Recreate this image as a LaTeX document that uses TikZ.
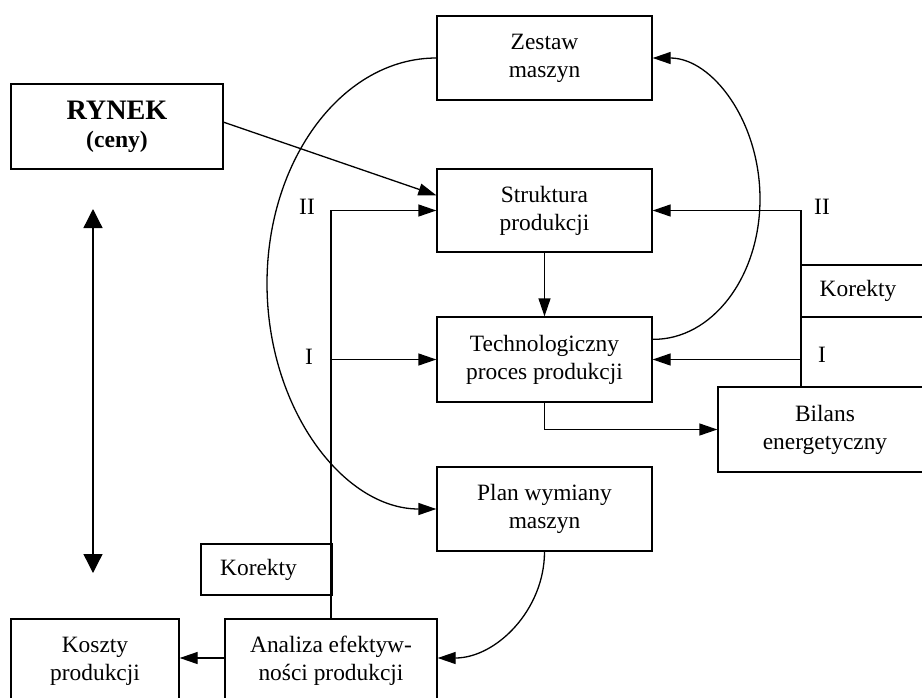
\documentclass[tikz,border=0pt]{standalone}
\usepackage{fontspec}
\setmainfont{Liberation Serif}
\usetikzlibrary{arrows.meta,calc}
\begin{document}
\begin{tikzpicture}[x=0.5pt,y=-0.5pt,line width=0.65pt,
  box/.style={draw,line width=0.65pt,inner sep=0pt,align=center,font=\fontsize{11.7}{14}\selectfont},
  lbl/.style={inner sep=0pt,font=\fontsize{11.7}{14}\selectfont},
  arr/.style={-{Triangle[length=9pt,width=6pt]}},
  bigtip/.style={{Triangle[length=9.5pt,width=9.5pt]}-{Triangle[length=9.5pt,width=9.5pt]}}]
\useasboundingbox (0,0) rectangle (922,697);
\clip (0,0) rectangle (922,697);
% boxes
\node[box,minimum width=106pt,minimum height=42.5pt,font=\bfseries\fontsize{11.8}{14}\selectfont] (rynek) at (117,126.5) {{\fontsize{14.1}{14}\selectfont RYNEK}\\(ceny)};
\node[box,minimum width=107.5pt,minimum height=42pt] (zestaw) at (544.5,58) {Zestaw\\maszyn};
\node[box,minimum width=107.5pt,minimum height=41.5pt] (struktura) at (544.5,210.5) {Struktura\\produkcji};
\node[box,minimum width=107.5pt,minimum height=42.5pt] (tech) at (544.5,359.5) {Technologiczny\\proces produkcji};
\node[box,minimum width=107.5pt,minimum height=42pt] (plan) at (544.5,509) {Plan wymiany\\maszyn};
\node[box,minimum width=107pt,minimum height=42.5pt] (bilans) at (825,429.5) {Bilans\\energetyczny};
\node[box,minimum width=64.5pt,minimum height=26pt] (korR) at (865.5,291) {Korekty\hspace*{7.5pt}};
\node[box,minimum width=65.5pt,minimum height=25.5pt] (korL) at (266.5,569.5) {Korekty\hspace*{8pt}};
\node[box,minimum width=106pt,minimum height=42pt] (analiza) at (331,661) {Analiza efektyw-\\ności produkcji};
\node[box,minimum width=84pt,minimum height=42pt] (koszty) at (95,661) {Koszty\\produkcji};
% labels
\node[lbl] (IIl) at (307,207) {II};
\node[lbl] (Il) at (309,357) {I};
\node[lbl] (IIr) at (822,207) {II};
\node[lbl] (Ir) at (822,355) {I};
% helper coordinates
\coordinate (yA) at (0,658);
\coordinate (rt) at (801,0);
\coordinate (dA) at (93,209);
\coordinate (dB) at (93,573);
% connectors
\draw[arr] ($(rynek.north east)!0.45!(rynek.south east)$) -- ($(struktura.north west)!0.32!(struktura.south west)$);
\draw[arr] (struktura.south) -- (tech.north);
\draw[arr] (tech.south) |- (bilans.west);
\draw[arr] (analiza.north) |- (struktura.west);
\draw[arr] (analiza.north |- tech.west) -- (tech.west);
\draw[arr] (bilans.north -| rt) |- (struktura.east);
\draw[arr] (tech.east -| rt) -- (tech.east);
\draw[arr] (analiza.west |- yA) -- (koszty.east |- yA);
\draw[arr] (zestaw.west) .. controls (343,58) and (267,159) .. (267,283.5) .. controls (267,408) and (343,509) .. (plan.west);
\draw[arr] ($(tech.north east)+(0,23)$) .. controls (712,340) and (760,277) .. (760,199) .. controls (760,121) and (712,58) .. (zestaw.east);
\draw[arr] (plan.south) .. controls (544.5,610) and (496,658) .. (analiza.east |- yA);
\draw[bigtip] (dA) -- (dB);
\end{tikzpicture}
\end{document}
